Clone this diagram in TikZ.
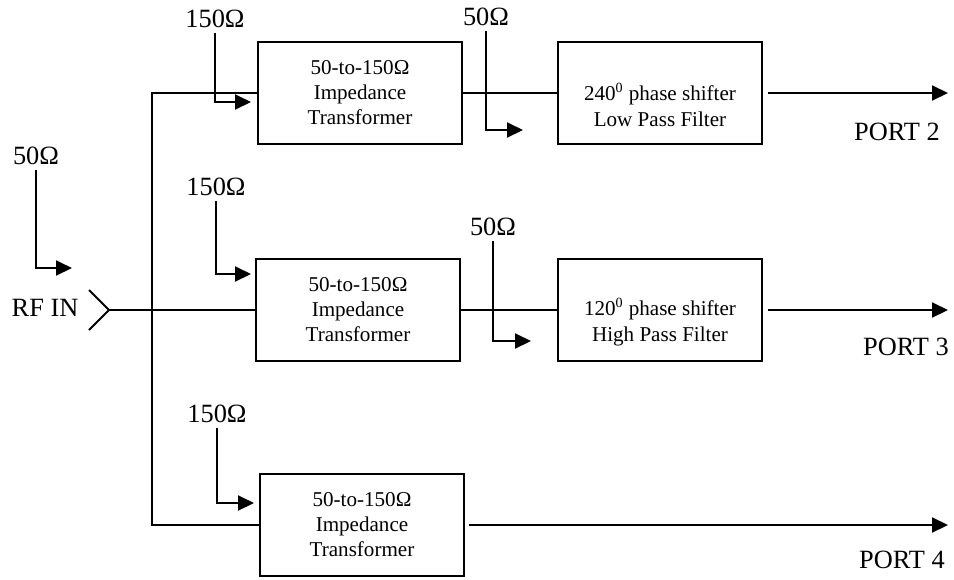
\documentclass[tikz,border=0pt]{standalone}
\usepackage{fontspec}
\setmainfont{Liberation Serif}
\usetikzlibrary{arrows.meta,positioning}

\begin{document}
\begin{tikzpicture}[
  x=0.2mm, y=-0.2mm,
  box/.style={draw, line width=0.45mm, minimum width=40.8mm, minimum height=20.4mm,
              inner sep=0pt, align=center, font=\fontsize{12}{14.2}\selectfont},
  btxt/.style={align=center, inner sep=0pt, font=\fontsize{12}{14.7}\selectfont},
  lbl/.style={font=\fontsize{15}{18}\selectfont, inner sep=1mm},
  wire/.style={line width=0.4mm},
  arr/.style={wire, -{Triangle[length=3.2mm, width=3mm]}}]
\useasboundingbox (0,0) rectangle (954,579);
% blocks
\node[box] (tr1) at (360,93) {50-to-150Ω\\ Impedance\\ Transformer};
\node[box] (tr2) at (358,310) {50-to-150Ω\\ Impedance\\ Transformer};
\node[box] (tr3) at (362,525) {50-to-150Ω\\ Impedance\\ Transformer};
\node[box] (f1) at (660,93) {};
\node[btxt] (f1t) at ([yshift=-2.4mm]f1.center) {240\textsuperscript{0} phase shifter\\ Low Pass Filter};
\node[box] (f2) at (660,310) {};
\node[btxt] (f2t) at ([yshift=-2.4mm]f2.center) {120\textsuperscript{0} phase shifter\\ High Pass Filter};
% input and splitting
\node[lbl] (rfl) at (45,308) {RF IN};
\coordinate (rf) at (109,310);
\draw[wire] ([shift={(-20,-20)}]rf) -- (rf) -- ([shift={(-20,20)}]rf);
\coordinate (bus) at (152,310);
\draw[wire] (rf) -- (tr2.west);
\draw[wire] (tr1.west) -| (bus) |- (tr3.west);
\draw[wire] (tr1) -- (f1);
\draw[wire] (tr2) -- (f2);
% outputs
\coordinate (p2) at (948,93);
\coordinate (p3) at (948,310);
\coordinate (p4) at (948,525);
\draw[arr, shorten <=1mm] (f1) -- (p2);
\draw[arr, shorten <=1mm] (f2) -- (p3);
\draw[arr, shorten <=0.8mm] (tr3) -- (p4);
\node[lbl] (port2) at (897,132) {PORT 2};
\node[lbl] (port3) at (906,347) {PORT 3};
\node[lbl] (port4) at (902,560) {PORT 4};
% impedance markers
\node[lbl] (z0) at (36,156) {50Ω};
\node[lbl] (z1) at (215,19) {150Ω};
\node[lbl] (z2) at (216,187) {150Ω};
\node[lbl] (z3) at (217,414) {150Ω};
\node[lbl] (z4) at (486,17) {50Ω};
\node[lbl] (z5) at (493,227) {50Ω};
\coordinate (t0) at (72,268);
\coordinate (t1) at (251,102);
\coordinate (t2) at (251,274);
\coordinate (t3) at (254,503);
\coordinate (t4) at (523,130);
\coordinate (t5) at (531,341);
\draw[arr] (z0) |- (t0);
\draw[arr] (z1) |- (t1);
\draw[arr] (z2) |- (t2);
\draw[arr] (z3) |- (t3);
\draw[arr] (z4) |- (t4);
\draw[arr] (z5) |- (t5);
\end{tikzpicture}
\end{document}
